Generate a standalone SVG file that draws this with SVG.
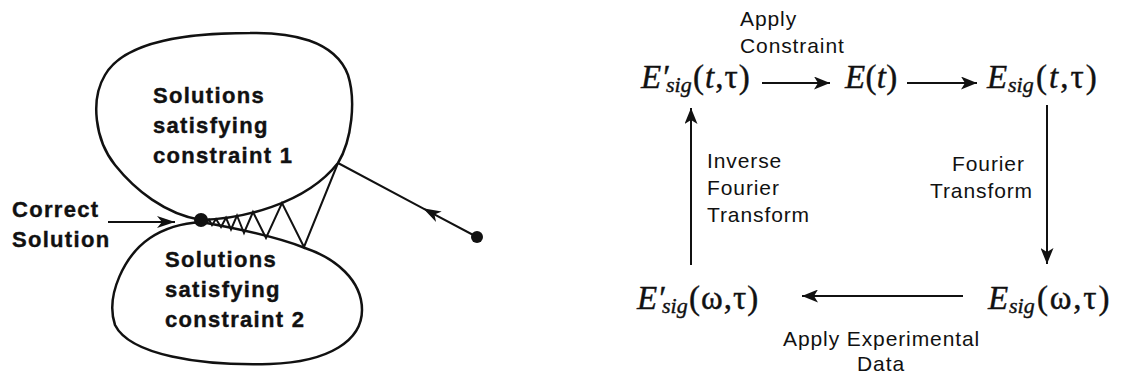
<svg xmlns="http://www.w3.org/2000/svg" width="1122" height="378" viewBox="0 0 1122 378">
<style>
.blob{fill:none;stroke:#111;stroke-width:2.5;stroke-linejoin:round}
.ln{fill:none;stroke:#111;stroke-width:2}
.b{font-family:"Liberation Sans",Arial,sans-serif;font-weight:bold;font-size:22px;letter-spacing:1.3px;fill:#111;stroke:#111;stroke-width:0.4}
.l{font-family:"Liberation Sans",Arial,sans-serif;font-size:21px;letter-spacing:0.9px;fill:#111}
.m{font-family:"Liberation Serif","Times New Roman",serif;font-size:33px;fill:#111;stroke:#111;stroke-width:0.4}
.i{font-style:italic}
.s{font-size:22px;font-style:italic}
.p{font-size:26px}
</style>
<defs>
<marker id="ah" markerUnits="userSpaceOnUse" markerWidth="18" markerHeight="13" refX="16" refY="6.5" orient="auto">
<path d="M0,0 L16,6.5 L0,13 L4,6.5 Z" fill="#111"/>
</marker>
<marker id="ahl" markerUnits="userSpaceOnUse" markerWidth="20" markerHeight="12" refX="18" refY="6" orient="auto">
<path d="M0,0 L18,6 L0,12 L5,6 Z" fill="#111"/>
</marker>
</defs>

<g id="constraint1">
<path class="blob" d="M201,220 C240,219 305,205 338,163 C352,140 356,100 348,75 C335,40 290,32 250,33 C190,33 125,40 105,75 C90,100 95,140 115,165 C135,190 165,214 201,220 Z"/>
<text class="b" x="153" y="103">Solutions</text>
<text class="b" x="153" y="133">satisfying</text>
<text class="b" x="153" y="163">constraint 1</text>
</g>

<g id="constraint2">
<path class="blob" d="M201,222 C240,229 280,238 305,248 C335,258 362,280 362,310 C362,340 330,362 270,364 C200,366 130,355 115,325 C105,295 125,255 150,238 C165,228 185,223 201,222 Z"/>
<text class="b" x="165" y="267">Solutions</text>
<text class="b" x="165" y="297">satisfying</text>
<text class="b" x="165" y="327">constraint 2</text>
</g>

<g id="correct-solution">
<circle cx="201" cy="220" r="7" fill="#111"/>
<text class="b" x="12" y="217">Correct</text>
<text class="b" x="12" y="247">Solution</text>
</g>

<g id="start-point">
<circle cx="477" cy="237" r="6" fill="#111"/>
</g>

<g id="e-sig-prime-t">
<text class="m" y="88"><tspan class="i" x="641">E′</tspan><tspan class="s" x="666" y="92">sig</tspan><tspan x="693" y="88" letter-spacing="1">(<tspan class="i">t</tspan>,τ)</tspan></text>
</g>
<g id="e-t">
<text class="m" y="88" letter-spacing="0.3"><tspan class="i" x="845">E</tspan>(<tspan class="i">t</tspan>)</text>
</g>
<g id="e-sig-t">
<text class="m" y="88"><tspan class="i" x="987">E</tspan><tspan class="s" x="1008" y="92">sig</tspan><tspan x="1036" y="88" letter-spacing="2">(<tspan class="i">t</tspan>,τ)</tspan></text>
</g>
<g id="e-sig-omega">
<text class="m" y="309"><tspan class="i" x="988">E</tspan><tspan class="s" x="1009" y="313">sig</tspan><tspan x="1037" y="309" letter-spacing="1.8">(ω,τ)</tspan></text>
</g>
<g id="e-sig-prime-omega">
<text class="m" y="309"><tspan class="i" x="637">E′</tspan><tspan class="s" x="662" y="313">sig</tspan><tspan x="689" y="309" letter-spacing="1">(ω,τ)</tspan></text>
</g>

<g id="connectors">
<line class="ln" x1="108" y1="222" x2="175" y2="222" marker-end="url(#ahl)"/>
<polyline class="ln" points="477,237 423,208.3 338,163" marker-mid="url(#ahl)"/>
<polyline class="ln" points="338,163 304,247 282,203 266,238 253,212 244,233 237,215.5 231,229.5 226,217.8 221,227 216,219 212,225 209,219.7 206,223.2 201,221"/>
<line class="ln" x1="762" y1="83" x2="830" y2="83" marker-end="url(#ah)"/>
<line class="ln" x1="907" y1="83" x2="977" y2="83" marker-end="url(#ah)"/>
<line class="ln" x1="1047" y1="105" x2="1047" y2="264" marker-end="url(#ah)"/>
<line class="ln" x1="963" y1="296" x2="802" y2="296" marker-end="url(#ah)"/>
<line class="ln" x1="691" y1="265" x2="691" y2="108" marker-end="url(#ah)"/>
<text class="l" x="740" y="26">Apply</text>
<text class="l" x="740" y="53">Constraint</text>
<text class="l" x="952" y="171">Fourier</text>
<text class="l" x="930" y="198">Transform</text>
<text class="l" x="783" y="346">Apply Experimental</text>
<text class="l" x="857" y="371">Data</text>
<text class="l" x="707" y="168">Inverse</text>
<text class="l" x="707" y="195">Fourier</text>
<text class="l" x="707" y="222">Transform</text>
</g>
</svg>
